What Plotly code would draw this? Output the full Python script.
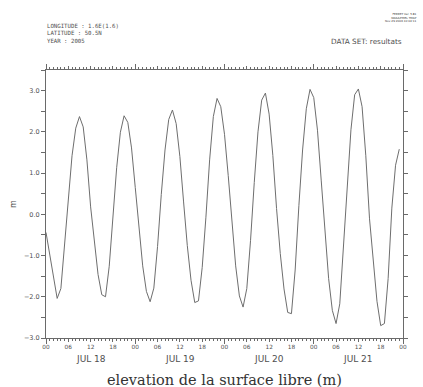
import plotly.graph_objects as go

# hours since JUL 18 00:00 (2005), hourly samples
hours = list(range(96))
elevation = [
    -0.44, -0.98, -1.55, -2.04, -1.80, -0.76, 0.47, 1.42, 2.09, 2.37,
    2.12, 1.32, 0.18, -0.73, -1.46, -1.95, -2.00, -1.26, 0.00, 1.13,
    1.99, 2.39, 2.23, 1.61, 0.65, -0.38, -1.25, -1.87, -2.12, -1.79,
    -0.78, 0.48, 1.56, 2.30, 2.53, 2.20, 1.40, 0.30, -0.76, -1.60,
    -2.14, -2.10, -1.29, -0.07, 1.32, 2.37, 2.81, 2.61, 1.94, 0.94,
    -0.22, -1.25, -1.98, -2.25, -1.80, -0.64, 0.77, 2.00, 2.77, 2.94,
    2.43, 1.43, 0.14, -0.95, -1.81, -2.38, -2.41, -1.35, 0.21, 1.56,
    2.56, 3.03, 2.83, 2.04, 0.83, -0.47, -1.56, -2.33, -2.65, -2.17,
    -0.72, 0.79, 2.05, 2.90, 3.04, 2.61, 1.42, -0.11, -1.22, -2.11,
    -2.70, -2.65, -1.56, 0.15, 1.19, 1.58,
]

hour_tick_vals = list(range(0, 97, 6))
hour_tick_text = ["00", "06", "12", "18"] * 4 + ["00"]
day_tick_vals = [0, 24, 48, 72, 96]
day_label_pos = [12, 36, 60, 84]
day_labels = ["JUL 18", "JUL 19", "JUL 20", "JUL 21"]

y_tick_vals = [v / 2 for v in range(-6, 8)]
y_tick_text = [("%.1f" % v).replace("-", "\u2212") if v == int(v) else "" for v in y_tick_vals]

header_left = ["LONGITUDE : 1.6E(1.6)", "LATITUDE : 50.5N", "YEAR : 2005"]
header_right = "DATA SET: resultats"
ferret_stamp = ["FERRET Ver. 5.81", "NOAA/PMEL TMAP", "Nov 29 2006 10:04:11"]
title_text = "elevation de la surface libre (m)"
y_title = "m"

axis_color = "#6a6a6a"
text_color = "#505050"
font_sans = "DejaVu Sans, Liberation Sans, sans-serif"

fig = go.Figure()
fig.add_trace(go.Scatter(x=hours, y=elevation, mode="lines",
                         line=dict(color="#6e6e6e", width=1),
                         hoverinfo="skip", showlegend=False))
# invisible trace to carry the day-boundary tick axis
fig.add_trace(go.Scatter(x=hours, y=elevation, mode="lines", xaxis="x2",
                         line=dict(color="rgba(0,0,0,0)", width=0),
                         hoverinfo="skip", showlegend=False))

fig.update_layout(
    width=423, height=387,
    paper_bgcolor="white", plot_bgcolor="white",
    margin=dict(l=46, r=20, t=70, b=49),
    showlegend=False,
    font=dict(family=font_sans, color=text_color, size=7),
    xaxis=dict(
        range=[0, 96], showgrid=False, zeroline=False,
        showline=True, linecolor=axis_color, linewidth=1, mirror="ticks",
        ticks="outside", ticklen=3, tickcolor=axis_color, tickwidth=1,
        tickvals=hour_tick_vals, ticktext=hour_tick_text,
        tickfont=dict(size=5.8, color=text_color, family=font_sans),
        minor=dict(dtick=1, tick0=0, ticks="outside", ticklen=2,
                   tickcolor=axis_color, tickwidth=1, showgrid=False),
    ),
    xaxis2=dict(
        range=[0, 96], overlaying="x", side="bottom", showgrid=False,
        zeroline=False, showline=False, mirror="ticks",
        ticks="outside", ticklen=5, tickcolor=axis_color, tickwidth=1,
        tickvals=day_tick_vals, showticklabels=False,
    ),
    yaxis=dict(
        range=[-3, 3.5], showgrid=False, zeroline=False,
        showline=True, linecolor=axis_color, linewidth=1, mirror="ticks",
        ticks="outside", ticklen=4, tickcolor=axis_color, tickwidth=1,
        tickvals=y_tick_vals, ticktext=y_tick_text,
        tickfont=dict(size=6.5, color=text_color, family=font_sans),
        title=dict(text=y_title, font=dict(size=8, color=text_color), standoff=6),
    ),
)

annotations = []
annotations.append(dict(text="<br>".join(header_left), x=45, y=387 - 33.5, xref="paper", yref="paper",
                        xanchor="left", yanchor="middle", align="left", showarrow=False,
                        font=dict(size=5.7, color=text_color, family="DejaVu Sans Mono, monospace")))
annotations.append(dict(text="<br>".join(ferret_stamp), x=419, y=387 - 17, xref="paper", yref="paper",
                        xanchor="right", yanchor="middle", align="right", showarrow=False,
                        font=dict(size=2.8, color="#333333")))
annotations.append(dict(text=header_right, x=404, y=387 - 42, xref="paper", yref="paper",
                        xanchor="right", yanchor="middle", showarrow=False,
                        font=dict(size=7.3, color=text_color)))
for pos, lab in zip(day_label_pos, day_labels):
    annotations.append(dict(text=lab, x=pos, y=387 - 359, xref="x", yref="paper",
                            xanchor="center", yanchor="middle", showarrow=False,
                            font=dict(size=9, color=text_color)))
annotations.append(dict(text=title_text, x=224, y=387 - 380, xref="paper", yref="paper",
                        xanchor="center", yanchor="middle", showarrow=False,
                        font=dict(size=14.5, family="DejaVu Serif, serif", color="#333333")))

# convert pixel-based paper positions to paper fractions
pw, ph = 423 - 46 - 20, 387 - 70 - 49
for a in annotations:
    if a["xref"] == "paper":
        a["x"] = (a["x"] - 46) / pw
    a["y"] = (a["y"] - 49) / ph
fig.update_layout(annotations=annotations)

fig.write_html("out.html", config={"displayModeBar": False},
               post_script="document.body.style.margin='0';document.body.style.overflow='hidden';")
